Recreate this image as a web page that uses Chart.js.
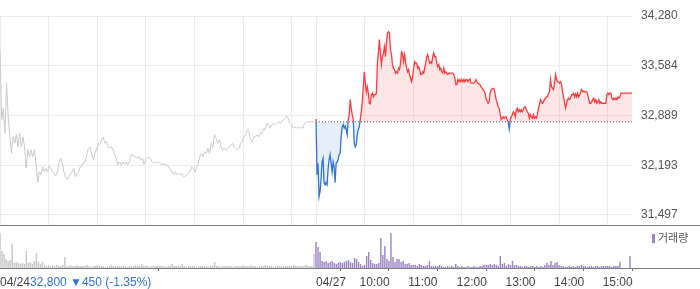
<!DOCTYPE html>
<html><head><meta charset="utf-8">
<script src="https://cdn.jsdelivr.net/npm/chart.js@4/dist/chart.umd.min.js"></script>
<style>
html,body{margin:0;padding:0;background:#fff;}
#wrap{position:relative;width:700px;height:289px;overflow:hidden;font-family:"Liberation Sans","DejaVu Sans",sans-serif;}
#pc{position:absolute;left:0;top:0;}
#vc{position:absolute;left:0;top:226px;}
#sep{position:absolute;left:0;top:225px;width:700px;height:1px;background:#7d7d7d;}
#base{position:absolute;left:0;top:268px;width:700px;height:1px;background:#7d7d7d;}
#legend{position:absolute;left:652px;top:231px;font-size:11px;line-height:13px;color:#555;font-family:"Noto Sans CJK KR",sans-serif;}
#legend i{display:inline-block;width:3px;height:9px;background:#9a84c8;margin-right:3px;vertical-align:-1px;}
</style></head><body>
<div id="wrap">
<canvas id="pc" width="700" height="226"></canvas>
<canvas id="vc" width="700" height="63"></canvas>
<div id="sep"></div>
<div id="base"></div>
<div id="legend"><i></i>거래량</div>
</div>
<script>
// ---- data ----
const dayLabels = ['04/24', '04/27'];
const hourLabels = ['10:00', '11:00', '12:00', '13:00', '14:00', '15:00'];
const prevDayClose = 32800;
const prevDayChange = -450;
const prevDayChangePct = -1.35;
const priceTicks = [31497, 32193, 32889, 33584, 34280];
const sessionMinutes = 390;       // 09:00 - 15:30
const volumeBucketMinutes = 2.5;

const prevDayPrices = [
33810,32830,32990,32640,33340,32870,32590,32360,32590,32500,
32620,32450,32640,32450,32590,32450,32150,32410,32310,32410,
32310,32410,32220,31950,32100,32060,32170,32100,32150,32100,
32180,32150,32100,32080,32040,32100,32220,32290,32220,32100,
32030,32000,32030,32080,32100,32150,32030,32080,32100,32170,
32180,32240,32240,32340,32430,32450,32340,32270,32360,32410,
32500,32480,32550,32590,32500,32520,32450,32430,32450,32410,
32340,32290,32200,32240,32200,32240,32200,32240,32200,32240,
32340,32340,32310,32310,32290,32310,32270,32290,32200,32270,
32290,32310,32280,32240,32220,32240,32220,32240,
32220,32200,32210,32200,32200,32170,32130,32100,32060,32100,
32060,32080,32060,32080,32030,32040,32060,32080,32100,32170,
32150,32100,32150,32220,32310,32360,32310,32380,32360,32430,
32360,32500,32450,32620,32570,32500,32550,32450,32410,32430,
32410,32430,32450,32480,32500,32450,32430,32410,32430,32500,
32520,32590,32620,32690,32660,32550,32520,32590,32590,32620,
32590,32640,32640,32710,32690,32780,32760,32710,32760,32780,
32760,32780,32800,32780,32800,32830,32850,32880,32850,32780,
32760,32710,32730,32710,32730,32710,32730,32710,32780,32800,
32800,32800,32800,32800,32800
];

const todayPrices = [
32840,32060,32220,31750,31820,31990,32240,32290,31950,31920,
31950,31920,32130,32270,32340,32220,32100,32240,32170,31950,
32220,32240,32270,32340,32360,32590,32730,32760,32710,32740,
32690,32620,32830,32900,33110,32990,32900,32830,32500,32450,
32480,32620,32690,32730,32830,32940,33080,33290,33500,33340,
33220,33290,33200,33060,33050,33180,33200,33150,33180,33180,
33200,33620,33760,33950,33760,33600,33710,33760,33850,33710,
33900,34040,34060,34040,33810,33740,33600,33550,33530,33480,
33500,33480,33550,33530,33620,33780,33760,33640,33740,33640,
33550,33500,33530,33460,33410,33360,33430,33550,33640,33620,
33620,33550,33570,33530,33460,33460,33500,33480,33550,33620,
33710,33740,33670,33620,33640,33620,33710,33760,33710,33710,
33620,33570,33600,33530,33550,33500,33480,33550,33480,33500,
33480,33460,33480,33480,33480,33480,33480,33460,33410,33320,
33320,33390,33360,33390,33360,33390,33360,33390,33360,33390,
33390,33360,
33390,33400,33340,33340,33340,33340,33360,33390,33360,33340,
33330,33320,33290,33270,33250,33230,33200,33120,33090,33060,
33080,33200,33250,33260,33270,33260,33180,33110,33060,33010,
32990,32910,32830,
32850,32870,32850,32870,32870,32830,32800,32700,32830,32870,
32900,32940,32920,32870,32970,32990,32940,32970,32940,32970,
32940,32970,33010,33010,32970,32940,32920,32850,32900,32870,
32850,32900,32850,32870,32850,32900,32990,33040,33110,33080,
33060,33080,33110,33130,33150,33150,33200,33220,33390,33290,
33270,33250,33340,33460,33390,33360,33360,33340,33360,33320,
33220,33150,33060,32990,33060,33110,33130,33110,33130,33180,
33180,33200,33150,33190,33150,33200,33150,33180,33220,33250,
33220,33230,33220,33220,33220,33180,33110,33060,33060,33080,
33110,33130,33080,33110,33060,33080,33110,33060,33080,33060,
33060,33060,33060,33060,33180,33200,33180,33200,33200,33130,
33110,33130,33110,33130,33110,33150,33130,33150,33200,33200,
33200,33200,33200,33200,33200,33200,33200,33200,33200,33200
];

const prevDayVolume = [
35,17,14,9,7,8,24,5,6,5,4,5,4,17,5,6,4,7,15,6,4,6,3,2,
3,2,3,2,3,2,2,3,11,2,2,3,2,2,3,2,2,
2,2,3,2,1,2,2,3,2,2,2,1,2,2,3,2,2,2,2,2,
2,2,1,2,2,2,3,2,2,4,2,2,2,1,2,2,2,2,2,2,
2,1,2,2,4,2,2,2,2,4,2,1,2,2,2,2,1,2,2,2,
2,2,1,2,2,6,2,2,1,2,2,2,2,2,1,2,2,2,2,3,
2,2,2,3,2,2,1,2,2,2,3,2,2,2,1,2,2,2,2,2,
2,2,2,2,3,2,2,2,2,2,3,2,2,2,14
];

const todayVolume = [
26,21,16,7,6,7,5,6,7,5,4,5,6,5,6,7,8,6,5,10,
9,6,4,2,3,12,16,8,5,4,4,5,30,13,22,9,7,35,11,6,
9,9,6,7,4,4,5,3,3,3,2,4,3,2,2,3,7,2,2,
2,2,3,2,1,1,2,1,2,1,4,2,1,2,1,1,2,1,
1,2,1,1,2,2,3,3,3,4,3,4,3,2,
12,4,5,2,4,3,7,3,3,
2,2,1,2,2,1,2,2,1,2,1,2,1,3,5,3,7,3,5,6,
3,2,2,1,1,2,1,2,1,2,2,3,2,2,1,2,2,1,2,2,
1,2,2,2,2,2,1,2,2,2,6,0,0,0,0,12
];

// ---- derived tables for the library ----
const totalMinutes = sessionMinutes * 2;
const prevPoints = prevDayPrices.map((v, i) => ({ x: i * (sessionMinutes - 2) / (prevDayPrices.length - 1), y: v }));
const todayPoints = todayPrices.map((v, i) => ({ x: sessionMinutes + i * sessionMinutes / (todayPrices.length - 1), y: v }));
const basePoints = [{ x: sessionMinutes, y: prevDayClose }, { x: totalMinutes, y: prevDayClose }];
const prevVolPoints = prevDayVolume.map((v, i) => ({ x: i * volumeBucketMinutes, y: v }));
const todayVolPoints = todayVolume.map((v, i) => ({ x: sessionMinutes + i * volumeBucketMinutes, y: v }));

const gridMinutes = [];
for (let m = 0; m < sessionMinutes; m += 60) gridMinutes.push(m);
gridMinutes.push(sessionMinutes);
for (let m = sessionMinutes + 60; m < totalMinutes; m += 60) gridMinutes.push(m);
const labelMinutes = [0, sessionMinutes];
for (let m = sessionMinutes + 60; m < totalMinutes; m += 60) labelMinutes.push(m);

const RED = '#ff3a3f', BLUE = '#2f74d6';
const FONT = '"Liberation Sans", "DejaVu Sans", sans-serif';
const fmt = n => n.toLocaleString('en-US');

function lineColor(ctx) {
  const chart = ctx.chart;
  const area = chart.chartArea;
  if (!area) return RED;
  const yb = chart.scales.y.getPixelForValue(prevDayClose);
  const g = chart.ctx.createLinearGradient(0, area.top, 0, area.bottom);
  const s = Math.min(1, Math.max(0, (yb - area.top) / (area.bottom - area.top)));
  g.addColorStop(0, RED); g.addColorStop(s, RED);
  g.addColorStop(s, BLUE); g.addColorStop(1, BLUE);
  return g;
}

new Chart(document.getElementById('pc'), {
  type: 'line',
  data: { datasets: [
    { data: prevPoints, borderColor: '#c9cacd', borderWidth: 1, pointRadius: 0, fill: false, tension: 0, order: 3 },
    { data: basePoints, borderColor: '#555', borderWidth: 1, borderDash: [1, 2], pointRadius: 0, fill: false, order: 2 },
    { data: todayPoints, borderColor: lineColor, borderWidth: 1.3, pointRadius: 0, tension: 0, order: 1,
      fill: { target: { value: prevDayClose }, above: 'rgba(250,60,70,0.13)', below: 'rgba(60,120,220,0.13)' } }
  ]},
  options: {
    responsive: false, animation: false, events: [],
    layout: { padding: { top: 16, bottom: 1, left: 0, right: 0 } },
    plugins: { legend: { display: false }, tooltip: { enabled: false } },
    scales: {
      x: { type: 'linear', min: 0, max: totalMinutes,
        afterBuildTicks: s => { s.ticks = gridMinutes.map(v => ({ value: v })); },
        ticks: { display: false }, grid: { color: '#ececec', drawTicks: false }, border: { display: false },
        afterFit: s => { s.height = 0; } },
      y: { position: 'right', min: 31357, max: 34280,
        afterBuildTicks: s => { s.ticks = priceTicks.map(v => ({ value: v })); },
        ticks: { padding: 9, color: '#555', font: { size: 12, family: FONT }, callback: v => fmt(v) },
        grid: { color: '#ececec', drawTicks: false }, border: { display: false },
        afterFit: s => { s.width = 68; s.paddingTop = 0; s.paddingBottom = 0; } }
    }
  }
});

const xLabelPlugin = {
  id: 'xlabels',
  afterDraw(chart) {
    const { ctx, scales: { x } } = chart;
    ctx.save();
    ctx.font = '12px ' + FONT;
    ctx.textBaseline = 'middle';
    ctx.textAlign = 'left';
    const y = 57;
    labelMinutes.forEach((m, i) => {
      const px = x.getPixelForValue(m);
      if (i === 0) {
        ctx.fillStyle = '#444';
        ctx.fillText(dayLabels[0], px, y);
        const w = ctx.measureText(dayLabels[0]).width;
        ctx.fillStyle = BLUE;
        const info = fmt(prevDayClose) + ' ' + (prevDayChange < 0 ? '▼' : '▲') + fmt(Math.abs(prevDayChange)) +
          ' (' + prevDayChangePct.toFixed(2) + '%)';
        ctx.fillText(info, px + w, y);
      } else if (i === 1) {
        ctx.fillStyle = '#444';
        ctx.fillText(dayLabels[1], px, y);
      } else {
        ctx.fillStyle = '#444';
        ctx.fillText(hourLabels[i - 2], px - 5, y);
      }
    });
    ctx.restore();
  }
};

new Chart(document.getElementById('vc'), {
  type: 'bar',
  data: { datasets: [
    { data: prevVolPoints, backgroundColor: '#c5c6c9', barPercentage: 0.7, categoryPercentage: 1, grouped: false },
    { data: todayVolPoints, backgroundColor: '#9a84c8', barPercentage: 0.7, categoryPercentage: 1, grouped: false }
  ]},
  options: {
    responsive: false, animation: false, events: [],
    layout: { padding: { top: 2, right: 68, left: 0, bottom: 0 } },
    plugins: { legend: { display: false }, tooltip: { enabled: false } },
    scales: {
      x: { type: 'linear', min: 0, max: totalMinutes, offset: false,
        afterBuildTicks: s => { s.ticks = labelMinutes.map(v => ({ value: v })); },
        ticks: { display: false },
        grid: { display: true, drawOnChartArea: false, drawTicks: true, tickLength: 3, tickColor: '#777' },
        border: { display: false },
        afterFit: s => { s.height = 21; } },
      y: { display: false, min: 0, max: 40 }
    }
  },
  plugins: [xLabelPlugin]
});
</script>
</body></html>
